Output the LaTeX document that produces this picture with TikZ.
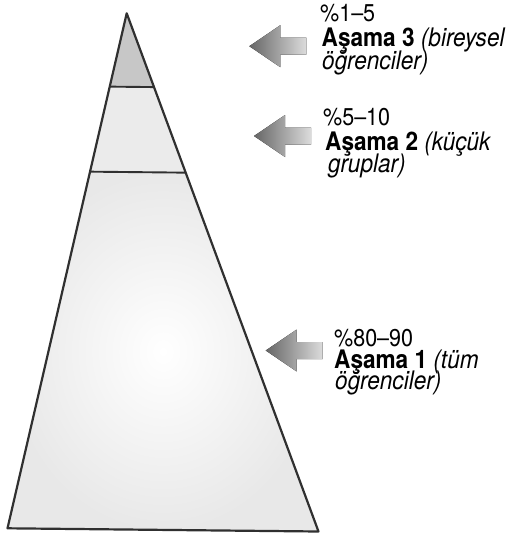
\documentclass[tikz,border=0pt]{standalone}
\usepackage{fontspec}
\usepackage{graphicx}
\setmainfont{TeX Gyre Heros}
\usetikzlibrary{calc}
\definecolor{edge}{HTML}{303030}
\definecolor{tipgray}{HTML}{666666}
\definecolor{tailgray}{HTML}{DCDCDC}
\newcommand\tallt[1]{\scalebox{1}[1.13]{#1}}
\begin{document}
\begin{tikzpicture}[x=1pt,y=-1pt,
  edgeline/.style={draw=edge,line width=2.2pt,line join=round},
  arrowfill/.style={left color=tipgray,right color=tailgray},
  txt/.style={anchor=base west,inner sep=0pt,font=\fontsize{22.6}{24}\selectfont},
  pct/.style={anchor=base west,inner sep=0pt,font=\fontsize{21.5}{24}\selectfont},
  larrow/.pic={\fill[arrowfill] (0,0) -- (31,-21) -- (31,-8.5) -- (57,-8.5) -- (57,8.5) -- (31,8.5) -- (31,21) -- cycle;}]
\useasboundingbox (0,0) rectangle (513,535);
% pyramid corners
\coordinate (apex) at (126.7,13.3);
\coordinate (bl) at (7.5,528.3);
\coordinate (br) at (318.5,531.5);
\coordinate (l1) at ($(apex)!0.1424!(bl)$);
\coordinate (r1) at ($(apex)!0.1424!(br)$);
\coordinate (l2) at ($(apex)!0.3075!(bl)$);
\coordinate (r2) at ($(apex)!0.3075!(br)$);
% fills
\fill[inner color=white,outer color=black!9,shading=radial] (l2) -- (r2) -- (br) -- (bl) -- cycle;
\fill[black!8] (l1) -- (r1) -- (r2) -- (l2) -- cycle;
\fill[black!22] (apex) -- (r1) -- (l1) -- cycle;
% outlines
\draw[edgeline] (apex) -- (br) -- (bl) -- cycle;
\draw[edgeline,line width=1.9pt] (l1) -- (r1);
\draw[edgeline,line width=1.9pt] (l2) -- (r2);
% arrows
\pic at (249.3,46.2) {larrow};
\pic at (254,136) {larrow};
\pic at (265.7,350.5) {larrow};
% labels
\node[pct] (p3) at (320,21.7) {\tallt{\%1–5}};
\node[txt] (a3) at (321.5,46.7) {\tallt{\textbf{Aşama 3} \textit{(bireysel}}};
\node[txt] (b3) at (322,69.5) {\tallt{\textit{öğrenciler)}}};
\node[pct] (p2) at (323,125) {\tallt{\%5–10}};
\node[txt] (a2) at (325,150) {\tallt{\textbf{Aşama 2} \textit{(küçük}}};
\node[txt] (b2) at (328,172) {\tallt{\textit{gruplar)}}};
\node[pct] (p1) at (334,346.7) {\tallt{\%80–90}};
\node[txt] (a1) at (334,368) {\tallt{\textbf{Aşama 1} \textit{(tüm}}};
\node[txt] (b1) at (335,389) {\tallt{\textit{öğrenciler)}}};
\end{tikzpicture}
\end{document}
